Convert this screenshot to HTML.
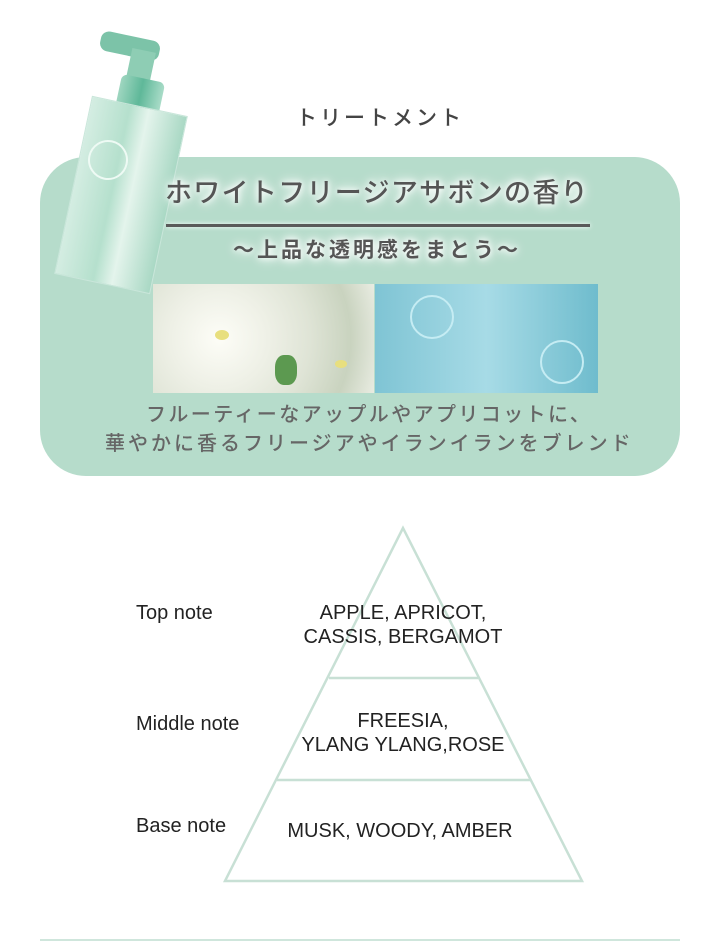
<!DOCTYPE html>
<html><head><meta charset="utf-8"><style>
body{margin:0;width:711px;height:948px;background:#fff;position:relative;overflow:hidden;font-family:"Liberation Sans","Noto Sans CJK JP",sans-serif}
.a{position:absolute}
.jp{font-family:"Noto Sans CJK JP",sans-serif;font-weight:bold;white-space:nowrap}
.glow{text-shadow:0 0 6px #fff,0 0 10px #fff,0 0 14px #fff}
.lbl{position:absolute;font-size:20px;color:#222;white-space:nowrap}
.ctr{position:absolute;font-size:20px;color:#222;text-align:center;line-height:24px;white-space:nowrap}
</style></head><body>
<div class="a jp" style="left:296px;top:102px;font-size:21px;color:#444;letter-spacing:3px;font-weight:500">トリートメント</div>
<div class="a" style="left:40px;top:157px;width:640px;height:319px;background:#b6dccb;border-radius:46px"></div>
<div class="a" style="left:100px;top:36px;width:60px;height:20px;background:#7cc3a8;border-radius:8px;transform:rotate(12deg)"></div>
<div class="a" style="left:128px;top:50px;width:24px;height:40px;background:#8ecdb4;transform:rotate(12deg)"></div>
<div class="a" style="left:118px;top:78px;width:44px;height:36px;background:linear-gradient(90deg,#9fd6c0,#5fb899,#a9dcc8);border-radius:6px;transform:rotate(12deg)"></div>
<div class="a" style="left:72px;top:104px;width:96px;height:180px;background:linear-gradient(90deg,#d4ede2,#b5e0cd 40%,#e4f4ec 60%,#a9d8c4);transform:rotate(12deg);border:1px solid #c9e6da"></div>
<div class="a" style="left:88px;top:140px;width:36px;height:36px;border:2px solid #eefaf4;border-radius:50%;transform:rotate(12deg)"></div>
<div class="a jp glow" style="left:165px;top:171px;font-size:27px;color:#555;font-weight:500;letter-spacing:1.3px">ホワイトフリージアサボンの香り</div>
<div class="a" style="left:166px;top:224px;width:424px;height:3px;background:#5a5a5a;box-shadow:0 0 5px #fff"></div>
<div class="a jp glow" style="left:233px;top:234px;font-size:21px;color:#555;letter-spacing:3px">～上品な透明感をまとう～</div>
<div class="a" style="left:153px;top:284px;width:221px;height:109px;background:radial-gradient(circle at 30% 50%,#fdfdf7 0,#eef0e6 30%,#dfe4d6 55%,#c9d3bf 80%,#e9ece2 100%)"></div>
<div class="a" style="left:215px;top:330px;width:14px;height:10px;background:#e8df7e;border-radius:50%"></div>
<div class="a" style="left:275px;top:355px;width:22px;height:30px;background:#5c9950;border-radius:40%"></div>
<div class="a" style="left:335px;top:360px;width:12px;height:8px;background:#e8df7e;border-radius:50%"></div>
<div class="a" style="left:375px;top:284px;width:223px;height:109px;background:linear-gradient(90deg,#7fc4d4,#a7dbe6 50%,#6fbccd)"></div>
<div class="a" style="left:410px;top:295px;width:40px;height:40px;border:2px solid #c5ecf3;border-radius:50%"></div>
<div class="a" style="left:540px;top:340px;width:40px;height:40px;border:2px solid #c5ecf3;border-radius:50%"></div>
<div class="a jp" style="left:146px;top:398px;font-size:20px;color:#666;font-weight:500;letter-spacing:2.4px">フルーティーなアップルやアプリコットに、</div>
<div class="a jp" style="left:105px;top:427px;font-size:20px;color:#666;font-weight:500;letter-spacing:3px">華やかに香るフリージアやイランイランをブレンド</div>
<svg class="a" style="left:0;top:0" width="711" height="948">
<g stroke="#c8e0d5" stroke-width="2.5" fill="none">
<polygon points="403,528 225,881 582,881"/>
<line x1="329" y1="678" x2="478" y2="678"/>
<line x1="277" y1="780" x2="530" y2="780"/>
</g>
<line x1="40" y1="940" x2="680" y2="940" stroke="#cfe6dc" stroke-width="2"/>
</svg>
<div class="lbl" style="left:136px;top:602px">Top note</div>
<div class="lbl" style="left:136px;top:713px">Middle note</div>
<div class="lbl" style="left:136px;top:815px">Base note</div>
<div class="ctr" style="left:253px;width:300px;top:601px">APPLE, APRICOT,<br>CASSIS, BERGAMOT</div>
<div class="ctr" style="left:253px;width:300px;top:709px">FREESIA,<br>YLANG YLANG,ROSE</div>
<div class="ctr" style="left:250px;width:300px;top:819px">MUSK, WOODY, AMBER</div>
</body></html>
